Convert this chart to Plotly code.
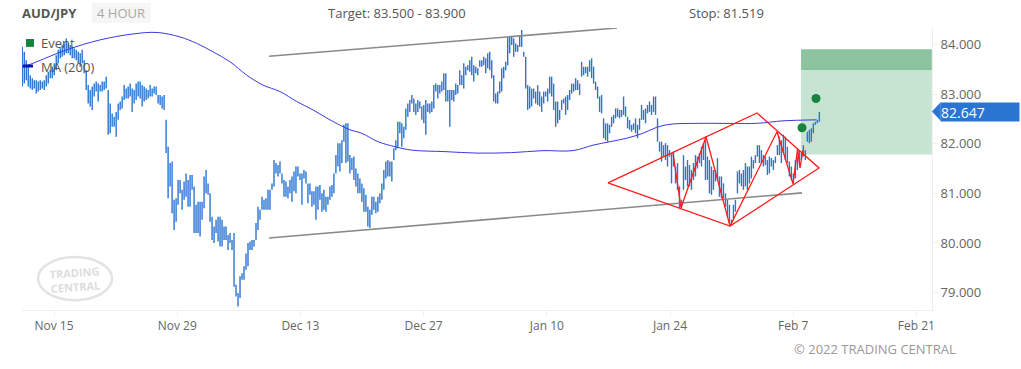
import pandas as pd
import plotly.graph_objects as go

# ---------------- data ----------------
symbol = "AUD/JPY"
timeframe = "4 HOUR"
target_low, target_high = 83.5, 83.9
stop_level = 81.519
zone_bottom = 81.78
last_price = 82.647

bar_start = "2021-11-11 09:30"
bar_end = "2022-02-09 23:15"

highs = [
    83.95, 83.85, 83.68, 83.55, 83.38, 83.32, 83.28, 83.28, 83.25, 83.28,
    83.25, 83.28, 83.38, 83.45, 83.48, 83.55, 83.62, 83.78, 83.89, 83.92,
    83.99, 84.02, 84.12, 84.02, 83.99, 83.95, 83.92, 83.89, 83.85, 83.82,
    83.89, 83.68, 83.48, 83.18, 83.08, 83.15, 83.21, 83.25, 83.21, 83.18,
    83.25, 83.25, 83.35, 83.08, 82.81, 82.61, 82.54, 82.64, 82.81, 82.85,
    82.95, 83.18, 83.11, 83.15, 83.21, 83.11, 83.08, 83.21, 83.25, 83.25,
    83.18, 83.15, 83.11, 83.08, 83.18, 83.11, 83.15, 83.15, 82.98, 82.98,
    82.95, 82.98, 82.48, 81.94, 81.61, 81.64, 80.87, 80.90, 81.27, 81.27,
    81.07,
    81.24, 81.40, 81.27, 81.37, 81.37, 81.14, 80.77, 80.83, 80.83, 80.83,
    81.34, 81.47, 81.20, 81.00, 80.53, 80.33, 80.47, 80.53, 80.53, 80.47,
    80.33, 80.33, 80.16, 80.20, 80.06, 80.20, 79.16, 78.99, 79.33, 79.39,
    79.53, 79.79, 80.00, 80.03, 80.06, 80.06, 80.40, 80.73, 80.67, 80.93,
    80.87, 80.90, 81.07, 81.07, 81.20, 81.67, 81.61, 81.57, 81.64, 81.40,
    81.27, 81.24, 81.14, 81.27, 81.34, 81.44, 81.54, 81.54, 81.40, 81.40,
    81.47, 81.44, 81.20, 81.20, 81.04, 81.04, 81.14, 81.14, 81.17, 81.00,
    81.07, 80.93, 80.93, 81.14, 81.17, 81.40, 81.77, 82.01, 82.01, 82.07,
    82.38, 82.41, 82.41,
    81.77, 81.71, 81.74, 81.50, 81.40, 81.30, 81.20, 81.10, 80.97, 80.73,
    80.67, 80.93, 80.93, 80.83, 80.93, 81.00, 81.20, 81.47, 81.64, 81.67,
    81.64, 81.64, 81.91, 82.07, 82.44, 82.44, 82.41, 82.34, 82.71, 82.81,
    82.88, 82.98, 82.91, 82.81, 82.88, 82.85, 82.75, 82.78, 82.88, 82.81,
    82.81, 82.85, 83.18, 83.21, 83.18, 83.18, 83.25, 83.42, 83.42, 83.08,
    83.08, 83.08, 83.08, 83.21, 83.18, 83.48, 83.38, 83.62, 83.55, 83.58,
    83.68, 83.75, 83.58, 83.55, 83.52, 83.68, 83.68, 83.75, 83.72, 83.82,
    83.85, 83.68, 83.38, 83.01, 83.05, 83.25, 83.52, 83.55, 83.65, 84.15,
    84.15, 84.15, 84.12,
    84.02, 83.99, 84.19, 84.29, 83.85, 83.75, 83.18, 83.15, 83.11, 83.11,
    83.05, 83.18, 83.05, 82.95, 83.05, 83.05, 83.11, 83.35, 83.35, 83.21,
    82.85, 82.85, 82.68, 82.88, 82.91, 82.95, 82.98, 83.08, 83.21, 83.21,
    83.32, 83.28, 83.21, 83.65, 83.55, 83.55, 83.55, 83.68, 83.72, 83.55,
    83.25, 83.15, 82.95, 82.98, 82.51, 82.41, 82.41, 82.38, 82.54, 82.58,
    82.71, 82.71, 82.68, 82.68, 82.95, 82.75, 82.54, 82.48, 82.38, 82.41,
    82.51, 82.38, 82.51, 82.78, 82.68, 82.71, 82.78, 82.85, 82.78, 82.95,
    82.95, 82.51, 82.04, 82.04, 81.97, 82.01, 81.97, 81.87, 81.81, 81.84,
    81.54,
    81.61, 81.14, 80.87, 81.77, 81.54, 81.67, 81.57, 81.47, 81.61, 81.77,
    81.74, 81.81, 81.94, 82.01, 82.07, 81.74, 81.67, 81.54, 81.47, 81.47,
    81.71, 81.34, 81.34, 81.20, 81.00, 80.87, 80.77, 80.47, 80.77, 80.87,
    81.44, 81.47, 81.40, 81.47, 81.61, 81.54, 81.54, 81.74, 81.67, 81.77,
    81.97, 81.97, 81.87, 81.77, 81.74, 81.67, 81.74, 81.71, 81.67, 81.74,
    81.97, 82.14, 82.07, 82.18, 82.14, 81.94, 81.64, 81.54, 81.40, 81.67,
    81.74, 81.87, 81.81, 81.97, 81.87, 82.24, 82.28, 82.31, 82.41, 82.44,
    82.48, 82.64,
]

lows = [
    83.15, 83.21, 83.28, 83.15, 83.11, 83.08, 83.11, 83.01, 83.05, 83.08,
    83.11, 83.08, 83.15, 83.21, 83.32, 83.32, 83.38, 83.48, 83.62, 83.72,
    83.75, 83.78, 83.82, 83.82, 83.78, 83.72, 83.72, 83.68, 83.62, 83.55,
    83.62, 83.42, 83.08, 82.81, 82.75, 82.68, 82.95, 83.05, 82.85, 83.05,
    83.05, 83.08, 83.11, 82.18, 82.21, 82.34, 82.34, 82.14, 82.48, 82.68,
    82.71, 82.88, 82.91, 82.91, 82.95, 82.64, 82.81, 82.88, 82.95, 82.91,
    82.75, 82.85, 82.88, 82.91, 82.95, 82.95, 83.01, 82.98, 82.81, 82.78,
    82.71, 82.68, 81.81, 80.90, 81.14, 80.60, 80.26, 80.43, 80.77, 81.00,
    80.67,
    80.87, 80.93, 80.73, 80.73, 81.07, 80.20, 80.20, 80.20, 80.13, 80.47,
    80.70, 81.00, 80.97, 80.43, 80.06, 80.00, 80.20, 80.03, 79.93, 79.93,
    80.06, 80.06, 79.86, 80.00, 79.86, 79.12, 78.92, 78.72, 78.89, 79.26,
    79.26, 79.46, 79.53, 79.86, 79.86, 79.93, 80.06, 80.26, 80.47, 80.67,
    80.67, 80.67, 80.67, 80.67, 81.07, 81.14, 81.40, 81.34, 81.40, 81.20,
    80.93, 80.93, 80.90, 81.00, 80.83, 81.04, 81.00, 81.34, 81.27, 80.77,
    81.30, 81.20, 80.80, 80.97, 80.73, 80.77, 80.47, 80.67, 80.87, 80.63,
    80.67, 80.63, 80.77, 80.87, 80.93, 81.00, 81.40, 81.54, 81.44, 81.61,
    82.04, 81.61, 81.64,
    81.40, 81.47, 81.27, 81.14, 81.00, 81.00, 80.83, 80.63, 80.63, 80.33,
    80.30, 80.57, 80.67, 80.60, 80.63, 80.80, 80.87, 81.07, 81.30, 81.34,
    81.34, 81.24, 81.67, 81.87, 81.91, 82.21, 81.94, 82.11, 82.28, 82.54,
    82.64, 82.81, 82.64, 82.58, 82.64, 82.71, 82.48, 82.41, 82.18, 82.64,
    82.61, 82.64, 82.71, 83.05, 82.91, 83.01, 83.05, 83.08, 82.85, 82.85,
    82.34, 82.88, 82.85, 82.98, 83.01, 83.18, 83.18, 83.11, 83.38, 83.48,
    83.45, 83.38, 83.25, 83.42, 83.38, 83.55, 83.55, 83.58, 83.42, 83.52,
    83.48, 83.32, 82.85, 82.81, 82.81, 83.01, 83.05, 83.32, 83.48, 83.58,
    83.82, 83.99, 83.75,
    83.85, 83.85, 83.95, 83.95, 83.75, 83.11, 82.68, 82.71, 82.75, 82.91,
    82.81, 82.78, 82.75, 82.64, 82.81, 82.95, 82.85, 83.01, 82.95, 82.68,
    82.34, 82.41, 82.48, 82.68, 82.81, 82.58, 82.68, 82.88, 83.01, 83.05,
    83.08, 83.08, 82.98, 83.35, 83.38, 83.42, 83.35, 83.45, 83.32, 83.21,
    83.08, 82.91, 82.64, 82.61, 82.11, 82.07, 82.04, 82.21, 82.34, 82.41,
    82.51, 82.54, 82.51, 82.54, 82.58, 82.54, 82.31, 82.28, 82.24, 82.28,
    82.21, 82.11, 82.28, 82.48, 82.48, 82.41, 82.61, 82.64, 82.58, 82.64,
    82.58, 82.04, 81.84, 81.64, 81.74, 81.67, 81.54, 81.74, 81.20, 81.54,
    81.20,
    81.07, 80.70, 80.70, 81.07, 81.27, 81.14, 81.14, 81.07, 81.27, 81.34,
    81.50, 81.61, 81.54, 81.67, 81.27, 81.27, 81.00, 80.97, 81.07, 81.24,
    81.27, 80.93, 80.90, 80.90, 80.73, 80.53, 80.40, 80.36, 80.47, 80.63,
    81.00, 81.20, 81.14, 81.07, 81.14, 81.07, 81.20, 81.30, 81.50, 81.61,
    81.74, 81.61, 81.61, 81.54, 81.57, 81.37, 81.40, 81.54, 81.47, 81.61,
    81.77, 81.77, 81.61, 81.81, 81.67, 81.61, 81.34, 81.27, 81.20, 81.30,
    81.47, 81.61, 81.67, 81.74, 81.67, 82.04, 82.01, 82.04, 82.21, 82.38,
    82.41, 82.44,
]

ma_dates = [
    "2021-11-11 08:40", "2021-11-12 14:40", "2021-11-16 10:30", "2021-11-20 05:30",
    "2021-11-23 23:30", "2021-11-26 16:50", "2021-11-29 07:40", "2021-12-01 05:20",
    "2021-12-03 01:40", "2021-12-05 00:00", "2021-12-06 21:40", "2021-12-08 18:00",
    "2021-12-10 16:20", "2021-12-12 13:50", "2021-12-14 10:20", "2021-12-16 08:40",
    "2021-12-18 15:20", "2021-12-19 23:20", "2021-12-21 19:40", "2021-12-23 18:00",
    "2021-12-25 15:40", "2021-12-29 10:20", "2022-01-02 04:20", "2022-01-06 00:10",
    "2022-01-09 13:40", "2022-01-12 23:30", "2022-01-15 06:00", "2022-01-17 04:20",
    "2022-01-19 01:50", "2022-01-20 22:20", "2022-01-22 11:50", "2022-01-24 00:00",
    "2022-01-27 18:00", "2022-02-02 20:20", "2022-02-05 20:10", "2022-02-09 16:00",
]
ma_values = [
    83.54, 83.62, 83.89, 84.09, 84.21, 84.24, 84.15, 84.02,
    83.85, 83.65, 83.38, 83.18, 83.05, 82.85, 82.68, 82.48,
    82.28, 82.21, 82.04, 81.94, 81.87, 81.84, 81.81, 81.82,
    81.86, 81.86, 81.97, 82.04, 82.11, 82.21, 82.33, 82.39,
    82.41, 82.41, 82.46, 82.48,
]

diamond_dates = ["2022-01-16 22:50", "2022-02-02 21:20", "2022-02-09 22:20",
                 "2022-01-30 19:40", "2022-01-16 22:50"]
diamond_values = [81.21, 82.62, 81.51, 80.34, 81.21]

zigzag_dates = ["2022-01-24 08:10", "2022-01-25 06:00", "2022-01-28 02:10",
                "2022-01-30 19:40", "2022-02-05 03:50", "2022-02-06 23:30",
                "2022-02-07 11:50", "2022-02-07 18:30", "2022-02-08 02:40"]
zigzag_values = [81.81, 80.71, 82.14, 80.34, 82.24, 81.19, 81.89, 81.51, 81.87]

upper_channel_dates = ["2021-12-09 10:20", "2022-01-17 23:30"]
upper_channel_values = [83.76, 84.33]
lower_channel_dates = ["2021-12-09 10:20", "2022-02-08 00:00"]
lower_channel_values = [80.10, 81.01]

event_dates = ["2022-02-08 00:00", "2022-02-09 14:10"]
event_values = [82.32, 82.91]

zone_start = "2022-02-07 21:20"
zone_end = "2022-02-22 18:00"

tick_dates = ["2021-11-15", "2021-11-29", "2021-12-13", "2021-12-27",
              "2022-01-10", "2022-01-24", "2022-02-07", "2022-02-21"]
tick_labels = ["Nov 15", "Nov 29", "Dec 13", "Dec 27", "Jan 10", "Jan 24", "Feb 7", "Feb 21"]
y_ticks = [79, 80, 81, 82, 83, 84]

x_range = ["2021-11-11 08:44", "2022-02-22 18:30"]
y_range = [78.65, 84.33]

# ---------------- figure ----------------
FONT = "Open Sans, Noto Sans, sans-serif"
BAR_COLOR = "#2a74d2"

bar_times = pd.date_range(bar_start, bar_end, periods=len(highs))
bx, by = [], []
for t, h, l in zip(bar_times, highs, lows):
    bx += [t, t, None]
    by += [l, h, None]

fig = go.Figure()

fig.add_trace(go.Scatter(x=bx, y=by, mode="lines", line=dict(color=BAR_COLOR, width=1.4),
                         hoverinfo="skip", showlegend=False))
fig.add_trace(go.Scatter(x=pd.to_datetime(ma_dates), y=ma_values, mode="lines",
                         line=dict(color="#3a3adc", width=1.0, shape="spline"),
                         name="MA (200)", showlegend=False))
fig.add_trace(go.Scatter(x=pd.to_datetime(upper_channel_dates), y=upper_channel_values,
                         mode="lines", line=dict(color="#8a8a8a", width=1.6),
                         showlegend=False, hoverinfo="skip"))
fig.add_trace(go.Scatter(x=pd.to_datetime(lower_channel_dates), y=lower_channel_values,
                         mode="lines", line=dict(color="#8a8a8a", width=1.6),
                         showlegend=False, hoverinfo="skip"))
fig.add_trace(go.Scatter(x=pd.to_datetime(diamond_dates), y=diamond_values, mode="lines",
                         line=dict(color="#ff1a1a", width=1.3), showlegend=False, hoverinfo="skip"))
fig.add_trace(go.Scatter(x=pd.to_datetime(zigzag_dates), y=zigzag_values, mode="lines",
                         line=dict(color="#ff1a1a", width=1.3), showlegend=False, hoverinfo="skip"))
fig.add_trace(go.Scatter(x=pd.to_datetime(event_dates), y=event_values, mode="markers",
                         marker=dict(color="#16843f", size=9), name="Event", showlegend=False))

shapes = [
    dict(type="rect", xref="x", yref="y", x0=zone_start, x1=zone_end, y0=zone_bottom, y1=target_low,
         fillcolor="#c6e4d1", line=dict(width=0), layer="below"),
    dict(type="rect", xref="x", yref="y", x0=zone_start, x1=zone_end, y0=target_low, y1=target_high,
         fillcolor="#8cc49f", line=dict(width=0), layer="below"),
    dict(type="line", xref="x", yref="y", x0=zone_start, x1=zone_end, y0=target_low, y1=target_low,
         line=dict(color="#7ab88f", width=1), layer="below"),
    # 4 HOUR pill
    dict(type="rect", xref="paper", yref="paper", x0=0.0769, x1=0.1418, y0=1.0177, y1=1.0887,
         fillcolor="#f6f6f6", line=dict(width=0)),
    # legend icons
    dict(type="rect", xref="paper", yref="paper", x0=0.0044, x1=0.0132, y0=0.933, y1=0.961,
         fillcolor="#16843f", line=dict(width=0)),
    dict(type="line", xref="paper", yref="paper", x0=0.001, x1=0.0121, y0=0.8652, y1=0.8652,
         line=dict(color="#1010b8", width=3)),
    # watermark ellipse
    dict(type="circle", xref="paper", yref="paper", x0=0.0176, x1=0.0989, y0=0.035, y1=0.188,
         line=dict(color="#e3e3e3", width=2.5), layer="below"),
    # price pointer
    dict(type="path", xref="paper", yref="y",
         path=f"M 1.0,{last_price} L 1.0095,{last_price + 0.185} L 1.0095,{last_price - 0.185} Z",
         fillcolor="#2a74d2", line=dict(width=0)),
]

annotations = [
    dict(text=f"<b>{symbol}</b>", x=-0.0022, y=1.053, xref="paper", yref="paper",
         xanchor="left", yanchor="middle", showarrow=False, font=dict(size=13, color="#555555")),
    dict(text=timeframe, x=0.1093, y=1.053, xref="paper", yref="paper",
         xanchor="center", yanchor="middle", showarrow=False, font=dict(size=13, color="#a8a8a8")),
    dict(text=f"Target: {target_low:.3f} - {target_high:.3f}", x=0.412, y=1.053, xref="paper",
         yref="paper", xanchor="center", yanchor="middle", showarrow=False,
         font=dict(size=13, color="#555555")),
    dict(text=f"Stop: {stop_level:.3f}", x=0.7747, y=1.053, xref="paper", yref="paper",
         xanchor="center", yanchor="middle", showarrow=False, font=dict(size=13, color="#555555")),
    dict(text="Event", x=0.0187, y=0.9468, xref="paper", yref="paper", xanchor="left",
         yanchor="middle", showarrow=False, font=dict(size=13, color="#555555")),
    dict(text="MA (200)", x=0.0187, y=0.8617, xref="paper", yref="paper", xanchor="left",
         yanchor="middle", showarrow=False, font=dict(size=13, color="#555555")),
    dict(text="<b>TRADING<br>CENTRAL</b>", x=0.0582, y=0.108, xref="paper", yref="paper",
         xanchor="center", yanchor="middle", showarrow=False,
         font=dict(size=11, color="#dddddd"), textangle=-4),
    dict(text="© 2022 TRADING CENTRAL", x=1.0286, y=-0.138, xref="paper", yref="paper",
         xanchor="right", yanchor="middle", showarrow=False, font=dict(size=13, color="#999999")),
    dict(text=f"{last_price:.3f}", x=1.0088, y=last_price, xref="paper", yref="y",
         xanchor="left", yanchor="middle", showarrow=False, bgcolor="#2a74d2",
         width=78, height=18, align="left", borderpad=0,
         font=dict(size=14, color="#ffffff")),
]

fig.update_layout(
    width=1021, height=369,
    margin=dict(l=22, r=89, t=28, b=59),
    paper_bgcolor="white", plot_bgcolor="white",
    font=dict(family=FONT, size=13, color="#555555"),
    showlegend=False,
    shapes=shapes,
    annotations=annotations,
    xaxis=dict(type="date", range=x_range, tickvals=pd.to_datetime(tick_dates), ticktext=tick_labels,
               showgrid=False, zeroline=False, showline=True, linecolor="#f0f0f0", linewidth=1,
               ticks="outside", ticklen=5, tickcolor="#eeeeee",
               tickfont=dict(size=12, color="#666666")),
    yaxis=dict(side="right", range=y_range, tickvals=y_ticks, tickformat=".3f",
               showgrid=False, zeroline=False, showline=True, linecolor="#eeeeee", linewidth=1,
               ticks="outside", ticklen=5, tickcolor="#eeeeee",
               tickfont=dict(size=13, color="#666666")),
)

fig.write_html("out.html", config={"displayModeBar": False},
               post_script="document.body.style.margin='0';")
